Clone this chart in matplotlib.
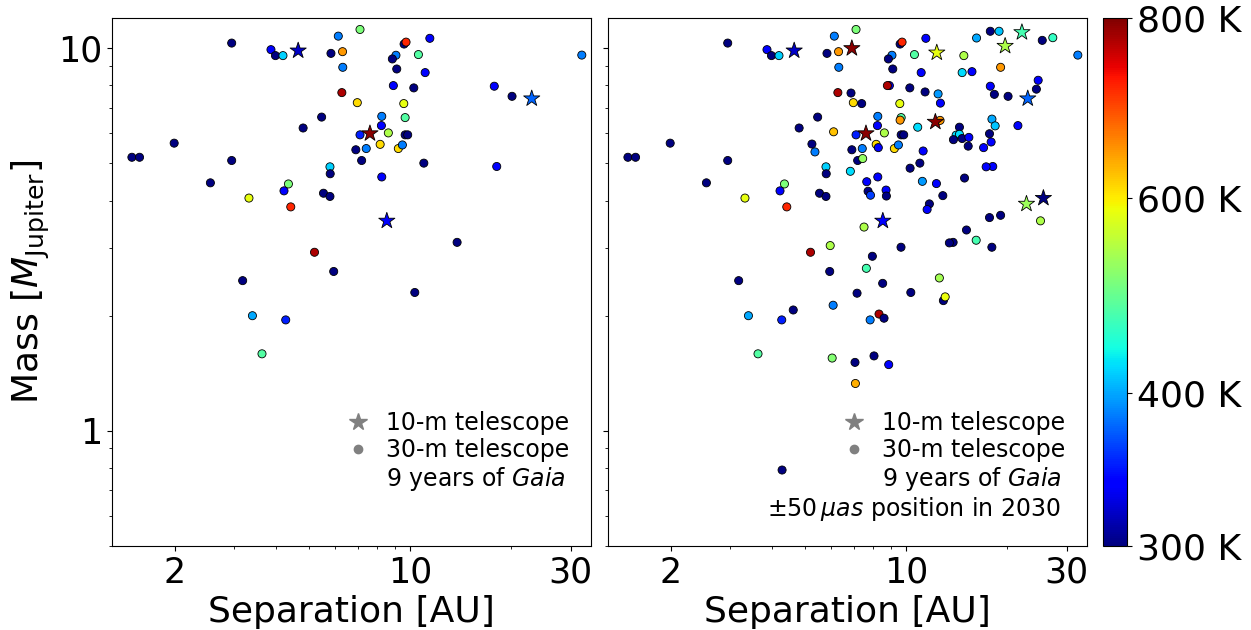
import numpy as np
import matplotlib
matplotlib.use("Agg")
import matplotlib.pyplot as plt
from matplotlib.colors import FuncNorm
from matplotlib.lines import Line2D
from matplotlib.ticker import NullFormatter

# planets seen in both panels (9 years of Gaia), 30-m telescope targets
dot_sep = [2.95, 3.86, 3.98, 4.19, 5.82, 6.30, 6.12, 7.10, 6.31, 6.27, 6.97, 5.46, 4.81, 7.10, 1.99, 6.90,
           7.18, 1.49, 1.57, 2.95, 5.78, 5.79, 2.55, 4.35, 4.22, 3.32, 5.53, 5.78, 4.42, 9.60, 9.73, 11.45,
           9.08, 8.86, 10.59, 32.4, 9.13, 11.09, 8.92, 10.26, 17.8, 20.1, 9.58, 8.24, 9.67, 8.22, 8.62, 9.67,
           9.84, 8.15, 9.23, 9.49, 7.41, 10.99, 18.1, 8.24, 5.20, 5.93, 3.18, 3.40, 4.27, 3.63, 13.8, 10.33]
dot_mass = [10.32, 9.92, 9.57, 9.57, 9.70, 9.80, 10.76, 11.2, 8.92, 7.66, 7.21, 6.61, 6.19, 5.94, 5.65, 5.43,
            5.09, 5.19, 5.19, 5.09, 4.90, 4.70, 4.45, 4.42, 4.24, 4.06, 4.18, 4.10, 3.85, 10.26, 10.38, 10.62,
            9.59, 9.38, 9.63, 9.60, 8.83, 8.64, 7.99, 7.88, 7.96, 7.49, 7.17, 6.64, 6.59, 6.28, 6.01, 5.94,
            5.94, 5.61, 5.47, 5.59, 5.47, 5.01, 4.91, 4.61, 2.93, 2.61, 2.47, 2.00, 1.95, 1.59, 3.11, 2.30]
dot_temp = [300, 335, 300, 418, 300, 647, 384, 504, 384, 773, 610, 300, 300, 350, 300, 300,
            300, 300, 300, 300, 418, 300, 300, 504, 335, 581, 300, 300, 717, 300, 717, 335,
            384, 300, 477, 384, 300, 335, 335, 300, 335, 300, 581, 384, 477, 335, 538, 300,
            300, 610, 610, 384, 384, 300, 335, 335, 773, 300, 300, 401, 350, 477, 300, 300]

# 10-m telescope targets in both panels
star_sep = [4.65, 23.0, 7.60, 8.53]
star_mass = [9.86, 7.39, 5.99, 3.54]
star_temp = [320, 375, 793, 335]

# extra planets only in the right panel (2030 positions)
extra_sep = [6.09, 5.25, 5.36, 6.83, 6.86, 14.85, 16.2, 17.8, 18.9, 25.4, 27.3, 19.1, 14.68, 15.7, 8.80,
             11.39, 12.45, 12.65, 18.3, 24.7, 24.4, 7.38, 9.60, 12.62, 10.83, 8.27, 7.43, 14.41, 14.09,
             14.41, 13.83, 14.68, 15.37, 15.3, 18.0, 18.4, 21.5, 17.7, 17.9, 17.0, 11.24, 10.28, 7.64,
             7.71, 7.84, 8.72, 8.74, 11.18, 12.31, 12.86, 14.92, 17.3, 11.73, 11.55, 17.7, 19.1, 7.50,
             9.66, 7.94, 7.62, 8.52, 7.15, 13.45, 15.12, 16.16, 17.99, 25.1, 12.56, 12.91, 13.07, 8.31,
             8.60, 7.82, 8.03, 7.05, 8.88, 7.07, 5.95, 4.62, 6.07, 6.03, 4.28]
extra_mass = [6.05, 5.62, 5.36, 4.77, 7.64, 9.57, 10.64, 11.08, 11.08, 10.49, 10.66, 8.92, 8.64, 8.69, 7.99,
              7.69, 7.60, 7.19, 7.58, 8.25, 7.82, 7.17, 6.49, 6.48, 6.22, 5.50, 5.15, 6.22, 5.93,
              5.96, 5.77, 5.81, 5.85, 5.55, 6.53, 6.27, 6.28, 5.98, 5.69, 5.50, 5.39, 4.86, 4.48,
              4.23, 4.13, 4.26, 4.11, 4.49, 4.43, 4.12, 4.58, 4.90, 3.92, 3.79, 3.61, 3.66, 3.41,
              3.02, 2.86, 2.66, 2.43, 2.29, 3.10, 3.35, 3.15, 3.02, 3.54, 2.51, 2.19, 2.24, 2.02,
              1.97, 1.95, 1.57, 1.51, 1.49, 1.33, 3.05, 2.07, 2.13, 1.55, 0.79]
extra_temp = [624, 300, 384, 424, 300, 538, 401, 300, 412, 300, 458, 647, 424, 335, 773,
              300, 395, 335, 300, 335, 300, 300, 647, 647, 424, 335, 520, 300, 424,
              424, 300, 300, 335, 300, 401, 412, 340, 300, 335, 335, 335, 300, 335,
              300, 360, 335, 300, 395, 335, 300, 300, 335, 300, 335, 300, 300, 538,
              300, 300, 469, 300, 300, 300, 300, 469, 300, 538, 532, 300, 584, 773,
              300, 384, 300, 300, 335, 633, 538, 300, 384, 509, 300]

extra_star_sep = [6.90, 12.34, 22.1, 19.7, 12.22, 22.8, 25.6]
extra_star_mass = [10.0, 9.74, 11.01, 10.14, 6.42, 3.92, 4.06]
extra_star_temp = [793, 581, 469, 538, 793, 527, 300]

cbar_ticks = [300, 400, 600, 800]
cbar_labels = ['300 K', '400 K', '600 K', '800 K']
# where each colour-bar tick sits along the bar (0 = bottom, 1 = top)
cbar_pos = [0.0, 0.29, 0.66, 1.0]

log_ticks = np.log(cbar_ticks)


def t_forward(t):
    return np.interp(np.log(t), log_ticks, cbar_pos)


def t_inverse(f):
    return np.exp(np.interp(f, cbar_pos, log_ticks))


norm = FuncNorm((t_forward, t_inverse), vmin=300, vmax=800)
cmap = plt.get_cmap('jet')

fig = plt.figure(figsize=(12.51, 6.30), dpi=100)
ax1 = fig.add_axes([0.0895, 0.1333, 0.3829, 0.8381])
ax2 = fig.add_axes([0.4860, 0.1333, 0.3829, 0.8381])
cax = fig.add_axes([0.8817, 0.1333, 0.0192, 0.8381])


def scatter_set(ax, sep, mass, temp, marker, size):
    return ax.scatter(sep, mass, c=temp, cmap=cmap, norm=norm, marker=marker, s=size,
                      edgecolors='black', linewidths=0.6, zorder=3)


def legend(ax):
    handles = [Line2D([], [], marker='*', color='gray', ls='none', markersize=13),
               Line2D([], [], marker='o', color='gray', ls='none', markersize=6),
               Line2D([], [], ls='none')]
    labels = ['10-m telescope', '30-m telescope', r'9 years of $\it{Gaia}$']
    ax.legend(handles, labels, loc='lower right', bbox_to_anchor=(0.975, 0.083), borderaxespad=0,
              frameon=False, fontsize=17, handlelength=1, handletextpad=0.7, labelspacing=0.12)


sc = scatter_set(ax1, dot_sep, dot_mass, dot_temp, 'o', 34)
scatter_set(ax1, star_sep, star_mass, star_temp, '*', 150)

scatter_set(ax2, dot_sep, dot_mass, dot_temp, 'o', 34)
scatter_set(ax2, extra_sep, extra_mass, extra_temp, 'o', 34)
scatter_set(ax2, star_sep, star_mass, star_temp, '*', 150)
scatter_set(ax2, extra_star_sep, extra_star_mass, extra_star_temp, '*', 150)

for ax in (ax1, ax2):
    ax.set_xscale('log')
    ax.set_yscale('log')
    ax.set_xlim(1.3, 34.5)
    ax.set_ylim(0.5, 12.0)
    ax.set_xticks([2, 10, 30])
    ax.set_xticklabels(['2', '10', '30'])
    ax.xaxis.set_minor_formatter(NullFormatter())
    ax.set_yticks([1, 10])
    ax.set_yticklabels(['1', '10'])
    ax.yaxis.set_minor_formatter(NullFormatter())
    ax.tick_params(labelsize=25)
    ax.set_xlabel('Separation [AU]', fontsize=26)
    legend(ax)

ax1.set_ylabel(r'Mass [$M_{\rm Jupiter}$]', fontsize=26)
ax2.tick_params(labelleft=False)
ax2.text(0.945, 0.07, r'$\pm50\,\mu as$ position in 2030', transform=ax2.transAxes,
         ha='right', va='center', fontsize=17)

cbar = fig.colorbar(sc, cax=cax, ticks=cbar_ticks)
cbar.ax.minorticks_off()
cbar.ax.set_yticklabels(cbar_labels)
cbar.ax.tick_params(labelsize=26)

fig.savefig('out.png', dpi=100)
